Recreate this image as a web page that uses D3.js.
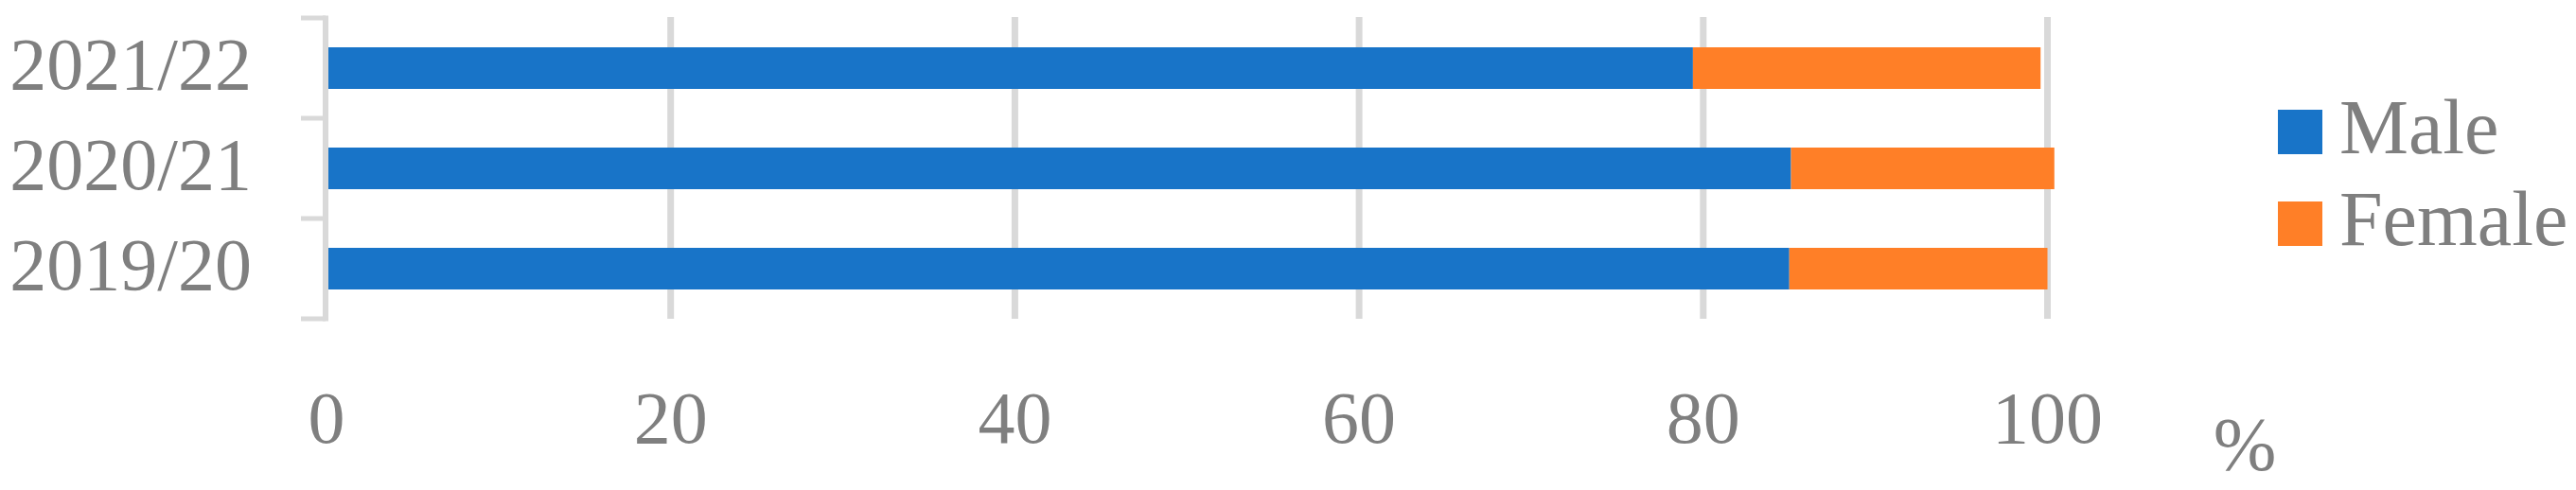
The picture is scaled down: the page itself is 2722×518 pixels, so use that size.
<!DOCTYPE html>
<html>
<head>
<meta charset="utf-8">
<script src="https://cdn.jsdelivr.net/npm/d3@7"></script>
<style>
  body { margin: 0; background: #fff; }
  text { font-family: "Liberation Serif", "DejaVu Serif", serif; fill: #7f7f7f; }
</style>
</head>
<body>
<div id="chart"></div>
<script>
var years = ["2021/22", "2020/21", "2019/20"];
var male = [79.4, 85.1, 85.0];
var female = [20.2, 15.3, 15.0];
var xTicks = [0, 20, 40, 60, 80, 100];
var seriesNames = ["Male", "Female"];
var colors = ["#1874c8", "#ff7f27"];

var width = 2722, height = 518;

var svg = d3.select("#chart")
    .append("svg")
      .attr("width", width)
      .attr("height", height);

var x = d3.scaleLinear()
    .domain([0, 100])
    .range([345, 2163.5]);

var y = d3.scaleBand()
    .domain(years)
    .range([19, 337])
    .paddingInner(0.585)
    .paddingOuter(0.2925);

// gridlines
svg.append("g")
    .selectAll("line")
    .data(xTicks.slice(1))
    .enter().append("line")
    .attr("x1", d => x(d))
    .attr("x2", d => x(d))
    .attr("y1", 18)
    .attr("y2", 337)
    .style("stroke", "#d9d9d9")
    .style("stroke-width", 7);

// stacked bars
var rows = years.map((c, i) => ({year: c, values: [male[i], female[i]]}));
var g = svg.append("g");
rows.forEach(function(r) {
    var start = 0;
    r.values.forEach(function(v, k) {
        g.append("rect")
            .attr("x", x(start))
            .attr("y", y(r.year))
            .attr("width", x(start + v) - x(start))
            .attr("height", y.bandwidth())
            .style("fill", colors[k]);
        start += v;
    });
});

// y axis line + ticks at band boundaries
var step = y.step();
var bounds = years.map(c => y(c) - step * y.paddingInner() / 2);
bounds.push(y.range()[1]);
svg.append("line")
    .attr("x1", 344).attr("x2", 344)
    .attr("y1", bounds[0] - 2.5).attr("y2", bounds[bounds.length - 1] + 2.5)
    .style("stroke", "#d9d9d9")
    .style("stroke-width", 6);
svg.append("g")
    .selectAll("line")
    .data(bounds)
    .enter().append("line")
    .attr("x1", 318).attr("x2", 344)
    .attr("y1", d => d).attr("y2", d => d)
    .style("stroke", "#d9d9d9")
    .style("stroke-width", 5);

// y labels
svg.append("g")
    .selectAll("text")
    .data(years)
    .enter().append("text")
    .attr("x", 266)
    .attr("y", d => y(d) + y.bandwidth() / 2 + 22)
    .attr("text-anchor", "end")
    .style("font-size", "78px")
    .text(d => d);

// x labels
svg.append("g")
    .selectAll("text")
    .data(xTicks)
    .enter().append("text")
    .attr("x", d => x(d))
    .attr("y", 468)
    .attr("text-anchor", "middle")
    .style("font-size", "78px")
    .text(d => d);

svg.append("text")
    .attr("x", 2372)
    .attr("y", 497)
    .attr("text-anchor", "middle")
    .style("font-size", "80px")
    .text("%");

// legend
var legend = svg.append("g")
    .selectAll("g")
    .data(seriesNames)
    .enter().append("g")
    .attr("transform", (d, i) => "translate(2407," + (116 + i * 97) + ")");
legend.append("rect")
    .attr("width", 47)
    .attr("height", 47)
    .style("fill", (d, i) => colors[i]);
legend.append("text")
    .attr("x", 65)
    .attr("y", 46)
    .style("font-size", "82px")
    .text(d => d);
</script>
</body>
</html>
